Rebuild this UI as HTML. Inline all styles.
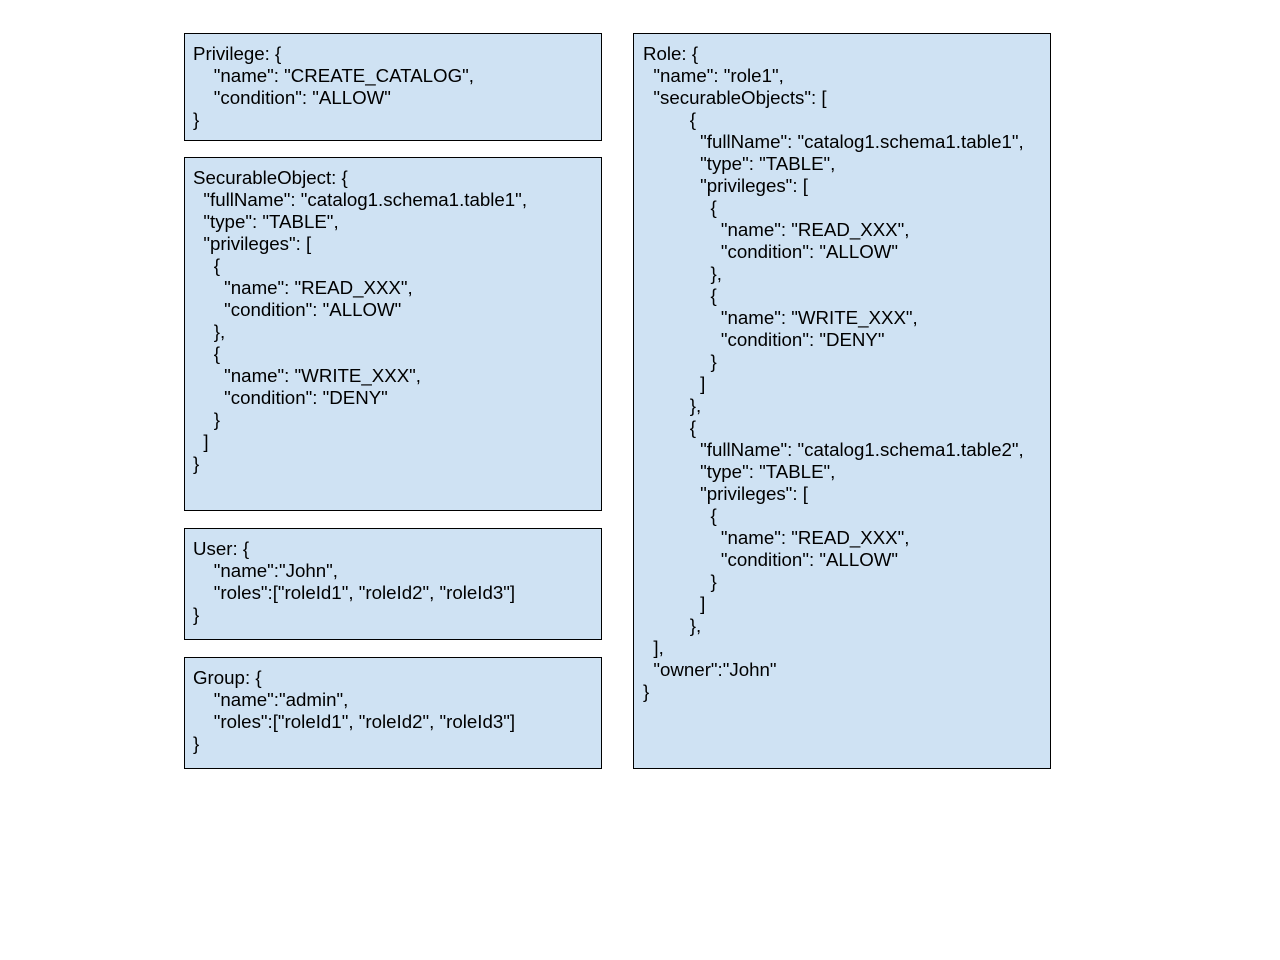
<!DOCTYPE html>
<html><head><style>
body{margin:0;width:1280px;height:960px;background:#fff;position:relative;overflow:hidden}
.b{position:absolute;background:#cfe2f3;border:1px solid #000;box-sizing:border-box}
pre{margin:0;position:absolute;left:8px;top:9px;font-family:"Liberation Sans",Arial,sans-serif;font-size:18.7px;line-height:22px;color:#000}
</style></head><body>
<div class="b" style="left:184px;top:33px;width:418px;height:108px"><pre>Privilege: {
    "name": "CREATE_CATALOG",
    "condition": "ALLOW"
}</pre></div>
<div class="b" style="left:184px;top:157px;width:418px;height:354px"><pre>SecurableObject: {
  "fullName": "catalog1.schema1.table1",
  "type": "TABLE",
  "privileges": [
    {
      "name": "READ_XXX",
      "condition": "ALLOW"
    },
    {
      "name": "WRITE_XXX",
      "condition": "DENY"
    }
  ]
}</pre></div>
<div class="b" style="left:184px;top:528px;width:418px;height:112px"><pre>User: {
    "name":"John",
    "roles":["roleId1", "roleId2", "roleId3"]
}</pre></div>
<div class="b" style="left:184px;top:657px;width:418px;height:112px"><pre>Group: {
    "name":"admin",
    "roles":["roleId1", "roleId2", "roleId3"]
}</pre></div>
<div class="b" style="left:633px;top:33px;width:418px;height:736px"><pre style="left:9px">Role: {
  "name": "role1",
  "securableObjects": [
         {
           "fullName": "catalog1.schema1.table1",
           "type": "TABLE",
           "privileges": [
             {
               "name": "READ_XXX",
               "condition": "ALLOW"
             },
             {
               "name": "WRITE_XXX",
               "condition": "DENY"
             }
           ]
         },
         {
           "fullName": "catalog1.schema1.table2",
           "type": "TABLE",
           "privileges": [
             {
               "name": "READ_XXX",
               "condition": "ALLOW"
             }
           ]
         },
  ],
  "owner":"John"
}</pre></div>
</body></html>
